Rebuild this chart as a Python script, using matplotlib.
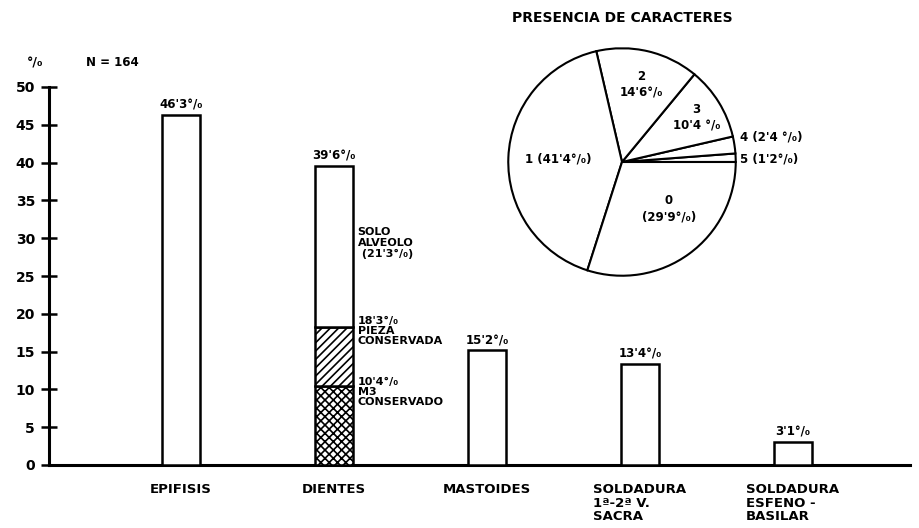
import matplotlib.pyplot as plt
import numpy as np

plt.rcParams['font.family'] = 'DejaVu Sans'
plt.rcParams['font.weight'] = 'bold'
plt.rcParams['hatch.linewidth'] = 1.2

categories = ['EPIFISIS', 'DIENTES', 'MASTOIDES', 'SOLDADURA\n1ª-2ª V.\nSACRA', 'SOLDADURA\nESFENO -\nBASILAR']
values = [46.3, 39.6, 15.2, 13.4, 3.1]
value_labels = ["46'3°/₀", "39'6°/₀", "15'2°/₀", "13'4°/₀", "3'1°/₀"]

# desglose de DIENTES
dientes_parts = [10.4, 7.9, 21.3]
dientes_hatch = ['xxxx', '////', '']
dientes_text = ["10'4°/₀\nM3\nCONSERVADO", "18'3°/₀\nPIEZA\nCONSERVADA", "SOLO\nALVEOLO\n (21'3°/₀)"]

pie_names = ['5', '4', '3', '2', '1', '0']
pie_values = [1.2, 2.4, 10.4, 14.6, 41.4, 29.9]
pie_labels = ["5 (1'2°/₀)", "4 (2'4 °/₀)", "3\n10'4 °/₀", "2\n14'6°/₀", "1 (41'4°/₀)", "0\n(29'9°/₀)"]

fig = plt.figure(figsize=(9.19, 5.28), dpi=100)
ax = fig.add_axes([49 / 919, 1 - 465 / 528, 861 / 919, 378 / 528])

x = np.arange(len(categories))
w = 0.25
for i, v in enumerate(values):
    if i == 1:
        bottom = 0
        for part, h in zip(dientes_parts, dientes_hatch):
            ax.bar(x[i], part, w, bottom=bottom, color='white', edgecolor='black',
                   hatch=h, linewidth=1.8, zorder=3)
            bottom += part
    else:
        ax.bar(x[i], v, w, color='white', edgecolor='black', linewidth=1.8, zorder=3)
    ax.text(x[i], v + 0.4, value_labels[i], ha='center', va='bottom', fontsize=8.5)

# textos al lado de DIENTES
tx = x[1] + w / 2 + 0.03
ax.text(tx, 11.6, dientes_text[0], ha='left', va='top', fontsize=8, linespacing=1.0)
ax.text(tx, 19.7, dientes_text[1], ha='left', va='top', fontsize=8, linespacing=1.0)
ax.text(tx, 31.5, dientes_text[2], ha='left', va='top', fontsize=8, linespacing=1.1)

ax.set_xlim(-0.863, 4.765)
ax.set_ylim(0, 50)
ax.set_yticks(np.arange(0, 51, 5))
ax.tick_params(axis='y', direction='inout', length=12, width=1.8, labelsize=10, pad=4)
ax.set_xticks([])
for s in ['top', 'right']:
    ax.spines[s].set_visible(False)
ax.spines['left'].set_linewidth(2.2)
ax.spines['bottom'].set_linewidth(2.2)

for i, c in enumerate(categories):
    ax.text(x[i] - (0.31 if i >= 3 else 0), -2.4, c, ha='left' if i >= 3 else 'center',
            va='top', fontsize=9.5, linespacing=1.05)

fig.text(35 / 919, 1 - 63 / 528, '°/₀', ha='center', va='center', fontsize=9)
fig.text(112 / 919, 1 - 62 / 528, 'N = 164', ha='center', va='center', fontsize=8.5)

# pastel
r = 116
pax = fig.add_axes([(622 - r) / 919, 1 - (162 + r) / 528, 2 * r / 919, 2 * r / 528])
pax.pie(pie_values, startangle=0, counterclock=True, colors=['white'] * 6,
        wedgeprops=dict(edgecolor='black', linewidth=1.5))
pax.set_aspect('equal')
pax.set_xlim(-1.02, 1.02)
pax.set_ylim(-1.02, 1.02)
pax.set_axis_off()

pie_pos = [(1.04, 0.03), (1.04, 0.22), (0.655, 0.39), (0.17, 0.68), (-0.56, 0.03), (0.41, -0.41)]
pie_ha = ['left', 'left', 'center', 'center', 'center', 'center']
for lab, (px, py), h in zip(pie_labels, pie_pos, pie_ha):
    pax.text(px, py, lab, ha=h, va='center', fontsize=8.5, linespacing=1.3, clip_on=False)

fig.text(622 / 919, 1 - 18 / 528, 'PRESENCIA DE CARACTERES', ha='center', va='center', fontsize=10)

plt.savefig('out.png', dpi=100)
